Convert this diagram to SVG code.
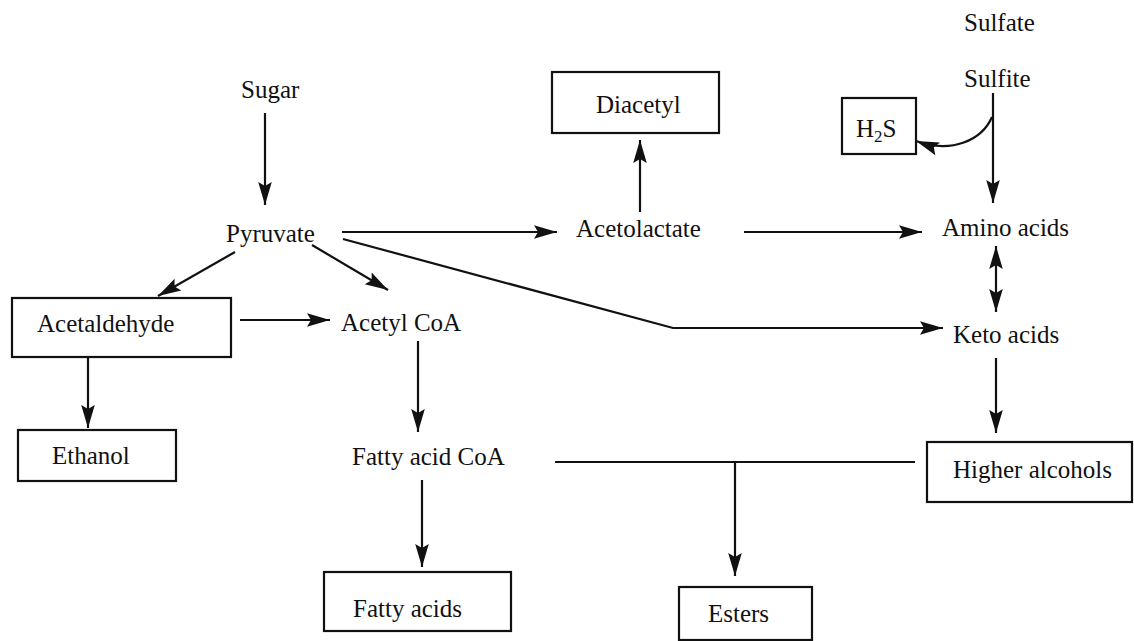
<svg xmlns="http://www.w3.org/2000/svg" width="1134" height="641" viewBox="0 0 1134 641">
<style>
  text { font-family: "Liberation Serif", "Times New Roman", serif; font-size: 25px; fill: #111; }
  .box { fill: #fff; stroke: #111; stroke-width: 2.2; }
  .c { fill: none; stroke: #111; stroke-width: 2.2; }
  .a { marker-end: url(#ah); }
</style>
<defs>
  <marker id="ah" markerUnits="userSpaceOnUse" markerWidth="26" markerHeight="16" viewBox="-24 -8 26 16" refX="0" refY="0" orient="auto">
    <path d="M0,0 L-23,-6.8 L-19,0 L-23,6.8 Z" fill="#111"/>
  </marker>
  <marker id="ahs" markerUnits="userSpaceOnUse" markerWidth="26" markerHeight="16" viewBox="-2 -8 26 16" refX="0" refY="0" orient="auto">
    <path d="M0,0 L23,-6.8 L19,0 L23,6.8 Z" fill="#111"/>
  </marker>
</defs>
<rect width="1134" height="641" fill="#fff"/>

<g id="connectors">
  <path class="c a" d="M265,113 V205"/>
  <path class="c a" d="M342,232 H557"/>
  <path class="c a" d="M640,212 V140"/>
  <path class="c a" d="M744,232 H922"/>
  <path class="c a" d="M993,93 V203"/>
  <path class="c a" d="M992,117 C982,140 952,154 916,141"/>
  <path class="c a" d="M996,246 V312" marker-start="url(#ahs)"/>
  <path class="c a" d="M343,239 L673,328 H943"/>
  <path class="c a" d="M996,358 V433"/>
  <path class="c a" d="M235,252 L158,296"/>
  <path class="c a" d="M312,245 L388,290"/>
  <path class="c a" d="M240,320 H330"/>
  <path class="c a" d="M88,355 V428"/>
  <path class="c a" d="M418,341 V432"/>
  <path class="c a" d="M422,480 V567"/>
  <path class="c" d="M555,462 H915"/>
  <path class="c a" d="M735,462 V576"/>
</g>

<g id="sulfate"><text x="964" y="31">Sulfate</text></g>
<g id="sulfite"><text x="964" y="87">Sulfite</text></g>
<g id="h2s"><rect class="box" x="842" y="98" width="74" height="56"/><text x="856" y="137">H<tspan font-size="17" dy="5">2</tspan><tspan dy="-5">S</tspan></text></g>
<g id="sugar"><text x="241" y="98">Sugar</text></g>
<g id="pyruvate"><text x="226" y="242">Pyruvate</text></g>
<g id="diacetyl"><rect class="box" x="552" y="72" width="167" height="61"/><text x="596" y="113">Diacetyl</text></g>
<g id="acetolactate"><text x="576" y="237">Acetolactate</text></g>
<g id="amino-acids"><text x="942" y="236">Amino acids</text></g>
<g id="keto-acids"><text x="953" y="343">Keto acids</text></g>
<g id="acetaldehyde"><rect class="box" x="12" y="298" width="219" height="59"/><text x="37" y="332">Acetaldehyde</text></g>
<g id="acetyl-coa"><text x="341" y="331">Acetyl CoA</text></g>
<g id="ethanol"><rect class="box" x="18" y="430" width="158" height="51"/><text x="52" y="464">Ethanol</text></g>
<g id="fatty-acid-coa"><text x="352" y="465">Fatty acid CoA</text></g>
<g id="higher-alcohols"><rect class="box" x="927" y="442" width="205" height="60"/><text x="953" y="478">Higher alcohols</text></g>
<g id="fatty-acids"><rect class="box" x="324" y="572" width="187" height="59"/><text x="353" y="617">Fatty acids</text></g>
<g id="esters"><rect class="box" x="679" y="587" width="133" height="53"/><text x="708" y="622">Esters</text></g>
</svg>
